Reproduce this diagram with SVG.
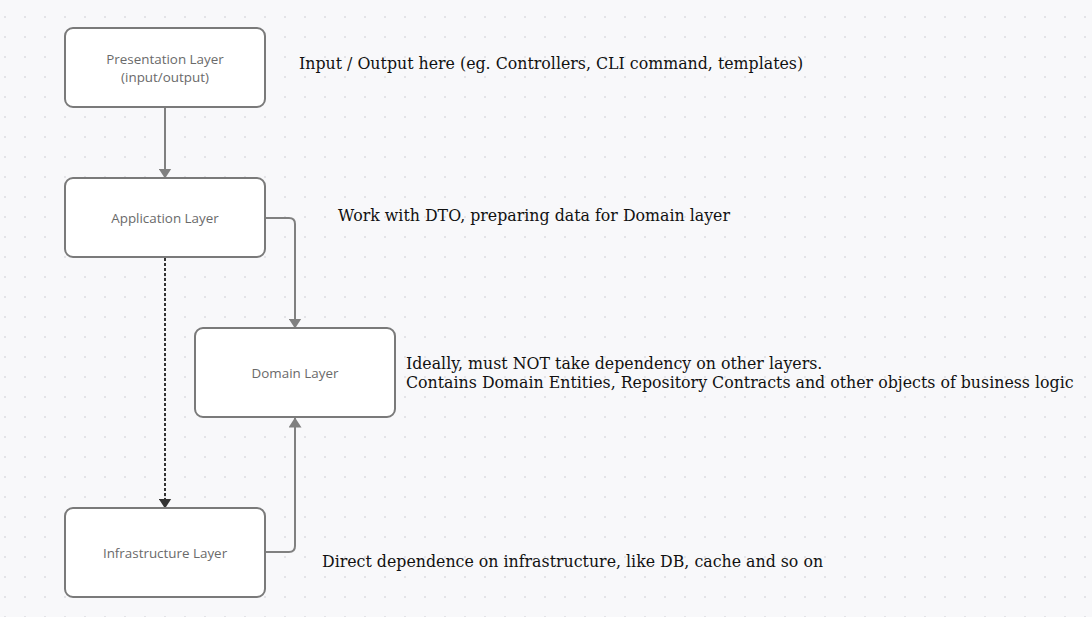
<svg xmlns="http://www.w3.org/2000/svg" width="1092" height="617" viewBox="0 0 1092 617">
<defs>
<pattern id="dots" x="0" y="0" width="20" height="20" patternUnits="userSpaceOnUse">
<circle cx="5" cy="17" r="1" fill="#dcdce0"/>
</pattern>
<marker id="ag" markerWidth="10" markerHeight="13" refX="9.5" refY="6.5" orient="auto" markerUnits="userSpaceOnUse" viewBox="0 0 10 13">
<path d="M0,0 L10,6.5 L0,13 Z" fill="#808080"/>
</marker>
<marker id="ab" markerWidth="10" markerHeight="13" refX="9.5" refY="6.5" orient="auto" markerUnits="userSpaceOnUse" viewBox="0 0 10 13">
<path d="M0,0 L10,6.5 L0,13 Z" fill="#333333"/>
</marker>
</defs>
<style>
.node rect{fill:#ffffff;stroke:#7a7a7a;stroke-width:2}
.node text{font-family:"Open Sans","Noto Sans",sans-serif;font-size:13.4px;fill:#6a6a6a;text-anchor:middle}
.note{font-family:"DejaVu Serif",serif;font-size:15.8px;fill:#111111}
.edge{fill:none;stroke:#808080;stroke-width:2}
.dash{fill:none;stroke:#333333;stroke-width:2;stroke-dasharray:3,2}
</style>
<rect width="1092" height="617" fill="#f8f8fa"/>
<rect width="1092" height="617" fill="url(#dots)"/>
<g id="connectors">
<path class="edge" d="M165,108 L165,178" marker-end="url(#ag)"/>
<path class="edge" d="M265,218 L289,218 Q295,218 295,224 L295,328" marker-end="url(#ag)"/>
<path class="dash" d="M165,258 L165,508" marker-end="url(#ab)"/>
<path class="edge" d="M265,552 L289,552 Q295,552 295,546 L295,418" marker-end="url(#ag)"/>
</g>
<g id="presentation" class="node">
<rect x="65" y="28" width="200" height="79" rx="8"/>
<text x="165" y="64">Presentation Layer</text>
<text x="165" y="82">(input/output)</text>
</g>
<g id="application" class="node">
<rect x="65" y="178" width="200" height="79" rx="8"/>
<text x="165" y="223">Application Layer</text>
</g>
<g id="domain" class="node">
<rect x="195" y="328" width="200" height="89" rx="8"/>
<text x="295" y="378">Domain Layer</text>
</g>
<g id="infrastructure" class="node">
<rect x="65" y="508" width="200" height="89" rx="8"/>
<text x="165" y="558">Infrastructure Layer</text>
</g>
<g id="notes">
<text class="note" x="299" y="69">Input / Output here (eg. Controllers, CLI command, templates)</text>
<text class="note" x="338" y="221">Work with DTO, preparing data for Domain layer</text>
<text class="note" x="406" y="369">Ideally, must NOT take dependency on other layers.</text>
<text class="note" x="406" y="388">Contains Domain Entities, Repository Contracts and other objects of business logic</text>
<text class="note" x="322" y="567">Direct dependence on infrastructure, like DB, cache and so on</text>
</g>
</svg>
